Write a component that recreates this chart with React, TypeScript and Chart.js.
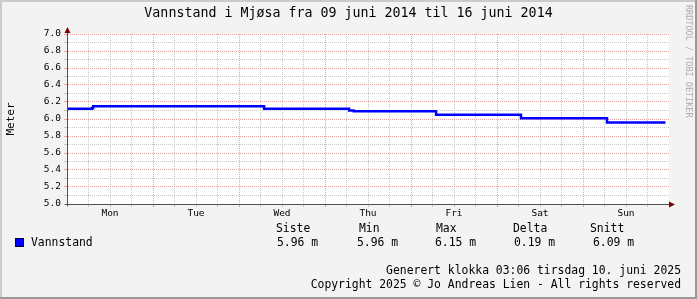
import React, { useEffect, useRef } from 'react';
import { Chart, registerables } from 'chart.js';

Chart.register(...registerables);

// ---- data ----
const chartTitle = 'Vannstand i Mjøsa fra 09 juni 2014 til 16 juni 2014';
const yAxisTitle = 'Meter';
const seriesName = 'Vannstand';
// hours since Monday 00:00 where the level changes
const changeHours = [0, 7, 7.3, 55, 78.7, 80, 103, 126.7, 150.7, 167];
const levels = [6.12, 6.13, 6.15, 6.12, 6.1, 6.09, 6.05, 6.01, 5.96, 5.96];
const dayLabels = ['Mon', 'Tue', 'Wed', 'Thu', 'Fri', 'Sat', 'Sun'];
const yTickValues = [5.0, 5.1, 5.2, 5.3, 5.4, 5.5, 5.6, 5.7, 5.8, 5.9, 6.0, 6.1, 6.2, 6.3, 6.4, 6.5, 6.6, 6.7, 6.8, 6.9, 7.0];
const legendHeaders = ['Siste', 'Min', 'Max', 'Delta', 'Snitt'];
const legendValues = ['5.96 m', '5.96 m', '6.15 m', '0.19 m', '6.09 m'];
const footerLines = [
  'Generert klokka 03:06 tirsdag 10. juni 2025',
  'Copyright 2025 © Jo Andreas Lien - All rights reserved',
];
const watermark = 'RRDTOOL / TOBI OETIKER';

const X_MAX = 168;
const xTickValues = Array.from({ length: X_MAX / 6 + 1 }, (_, i) => i * 6);

const MONO = '"DejaVu Sans Mono", "Liberation Mono", monospace';
const MINOR = '#C8C8C8';
const MAJOR = '#E6A3A3';
const AXIS = '#505050';
const ARROW = '#7F0000';

const decor = {
  id: 'decor',
  beforeDraw(chart: any) {
    const { ctx, width, height, chartArea: a } = chart;
    ctx.save();
    ctx.fillStyle = '#F3F3F3';
    ctx.fillRect(0, 0, width, height);
    ctx.fillStyle = '#CBCBCB';
    ctx.fillRect(0, 0, width, 2);
    ctx.fillRect(0, 0, 2, height);
    ctx.fillStyle = '#999999';
    ctx.fillRect(0, height - 2, width, 2);
    ctx.fillRect(width - 2, 0, 2, height);
    ctx.fillStyle = '#FFFFFF';
    ctx.fillRect(a.left, a.top, a.right - a.left, a.bottom - a.top);
    ctx.restore();
  },
  afterDraw(chart: any) {
    const { ctx, width, chartArea: a } = chart;
    ctx.save();
    // axis extensions + arrows
    ctx.strokeStyle = AXIS;
    ctx.lineWidth = 1;
    ctx.beginPath();
    ctx.moveTo(a.left + 0.5, a.bottom + 2);
    ctx.lineTo(a.left + 0.5, a.top - 4);
    ctx.moveTo(a.left - 2, a.bottom + 0.5);
    ctx.lineTo(a.right + 3, a.bottom + 0.5);
    ctx.stroke();
    ctx.fillStyle = ARROW;
    ctx.beginPath();
    ctx.moveTo(a.left + 0.5, a.top - 7);
    ctx.lineTo(a.left + 3.5, a.top - 1);
    ctx.lineTo(a.left - 2.5, a.top - 1);
    ctx.closePath();
    ctx.fill();
    ctx.beginPath();
    ctx.moveTo(a.right + 6, a.bottom + 0.5);
    ctx.lineTo(a.right, a.bottom + 3.5);
    ctx.lineTo(a.right, a.bottom - 2.5);
    ctx.closePath();
    ctx.fill();

    // title
    ctx.fillStyle = '#000';
    ctx.textBaseline = 'middle';
    ctx.textAlign = 'center';
    ctx.font = `13.3px ${MONO}`;
    ctx.fillText(chartTitle, width / 2, 14);

    // y axis title
    ctx.save();
    ctx.font = `11px ${MONO}`;
    ctx.translate(11, (a.top + a.bottom) / 2);
    ctx.rotate(-Math.PI / 2);
    ctx.fillText(yAxisTitle, 0, 0);
    ctx.restore();

    // legend
    ctx.font = `11.4px ${MONO}`;
    ctx.textAlign = 'left';
    const headerX = [276, 359, 436, 513, 590];
    const valueX = [277, 357, 435, 514, 593];
    legendHeaders.forEach((h, i) => ctx.fillText(h, headerX[i], 229));
    legendValues.forEach((v, i) => ctx.fillText(v, valueX[i], 243));
    ctx.fillText(seriesName, 31, 243);
    ctx.fillStyle = '#0000FF';
    ctx.fillRect(15, 238, 9, 9);
    ctx.strokeStyle = '#000030';
    ctx.strokeRect(15.5, 238.5, 8, 8);

    // footer
    ctx.fillStyle = '#000';
    ctx.textAlign = 'right';
    ctx.fillText(footerLines[0], 681, 271);
    ctx.fillText(footerLines[1], 681, 285);

    // watermark
    ctx.save();
    ctx.fillStyle = '#ABABAB';
    ctx.font = `8.5px ${MONO}`;
    ctx.textAlign = 'left';
    ctx.translate(688, 5);
    ctx.rotate(Math.PI / 2);
    ctx.fillText(watermark, 0, 0);
    ctx.restore();

    ctx.restore();
  },
};

const isMajorY = (v: number) => Math.round(v * 10) % 2 === 0;

export default function App() {
  const ref = useRef<HTMLCanvasElement | null>(null);
  useEffect(() => {
    document.body.style.margin = '0';
    const canvas = ref.current;
    if (!canvas) return;
    const chart = new Chart(canvas, {
      type: 'line',
      data: {
        datasets: [
          {
            label: seriesName,
            data: changeHours.map((h, i) => ({ x: h, y: levels[i] })),
            borderColor: '#0000FF',
            borderWidth: 2.5,
            pointRadius: 0,
            stepped: true,
            fill: false,
          },
        ],
      },
      options: {
        animation: false,
        responsive: false,
        devicePixelRatio: 1,
        layout: { padding: { left: 0, top: 34, right: 28, bottom: 75 } },
        plugins: { legend: { display: false }, tooltip: { enabled: false }, title: { display: false } },
        scales: {
          x: {
            type: 'linear',
            min: 0,
            max: X_MAX,
            afterFit: (s: any) => { s.height = 20; },
            afterBuildTicks: (s: any) => { s.ticks = xTickValues.map((v) => ({ value: v })); },
            ticks: {
              autoSkip: false,
              maxRotation: 0,
              padding: 1,
              color: '#000',
              font: { family: MONO, size: 9.5 },
              callback: (v: any) => (v % 24 === 12 ? dayLabels[(v - 12) / 24] : ''),
            },
            grid: {
              color: (c: any) => {
                const v = c.tick?.value;
                if (v === 0 || v === X_MAX) return 'rgba(0,0,0,0)';
                return v % 24 === 0 ? MAJOR : MINOR;
              },
              tickColor: (c: any) => (c.tick?.value % 24 === 0 ? MAJOR : MINOR),
              tickLength: 3,
              lineWidth: 1,
            },
            border: { display: true, color: AXIS, dash: [1, 1] },
          },
          y: {
            type: 'linear',
            min: 5,
            max: 7,
            afterFit: (s: any) => { s.width = 67; },
            afterBuildTicks: (s: any) => { s.ticks = yTickValues.map((v) => ({ value: v })); },
            ticks: {
              autoSkip: false,
              padding: 3,
              color: '#000',
              font: { family: MONO, size: 9.5 },
              callback: (v: any) => (isMajorY(v) ? Number(v).toFixed(1) : ''),
            },
            grid: {
              color: (c: any) => {
                const v = c.tick?.value;
                if (v === 5) return 'rgba(0,0,0,0)';
                return isMajorY(v) ? MAJOR : MINOR;
              },
              tickColor: (c: any) => (isMajorY(c.tick?.value) ? MAJOR : MINOR),
              tickLength: 3,
              lineWidth: 1,
            },
            border: { display: true, color: AXIS, dash: [1, 1] },
          },
        },
      },
      plugins: [decor],
    });
    return () => chart.destroy();
  }, []);
  return (
    <div style={{ position: 'absolute', left: 0, top: 0, width: 697, height: 299 }}>
      <canvas ref={ref} width={697} height={299} style={{ display: 'block' }} />
    </div>
  );
}
